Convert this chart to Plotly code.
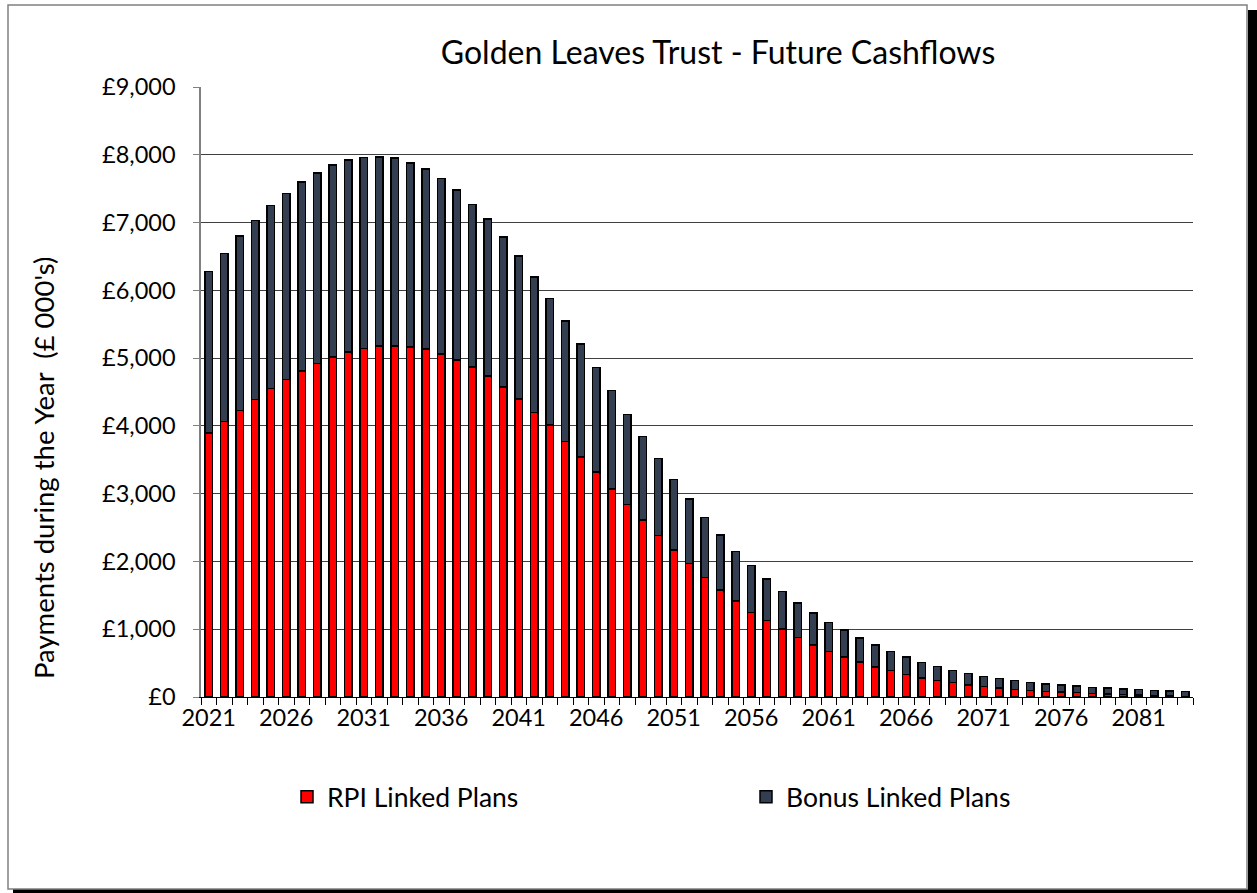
import plotly.graph_objects as go

years = list(range(2021, 2085))

total = [6280, 6540, 6800, 7030, 7250, 7430, 7600, 7730, 7850, 7920,
         7960, 7970, 7950, 7880, 7790, 7650, 7480, 7270, 7050, 6790,
         6505, 6200, 5880, 5550, 5210, 4860, 4520, 4170, 3840, 3520,
         3210, 2920, 2650, 2390, 2150, 1940, 1740, 1560, 1390, 1240,
         1100, 985, 867, 764, 670, 590, 512, 453, 394, 345,
         305, 271, 241, 217, 192, 177, 163, 143, 133, 118,
         113, 99, 89, 79]

rpi = [3894, 4063, 4227, 4386, 4549, 4686, 4811, 4921, 5019, 5090,
       5145, 5177, 5177, 5161, 5134, 5063, 4975, 4866, 4735, 4577,
       4395, 4200, 4010, 3770, 3540, 3320, 3070, 2840, 2610, 2380,
       2170, 1970, 1760, 1580, 1420, 1250, 1130, 1000, 875, 770,
       675, 590, 517, 443, 389, 335, 281, 246, 217, 177,
       158, 133, 113, 99, 79, 74, 64, 54, 44, 39,
       30, 20, 12, 6]

bonus = [t - r for t, r in zip(total, rpi)]

xtick_vals = list(range(2021, 2085, 5))
xtick_text = [str(v) for v in xtick_vals]

FONT = "Lato"

fig = go.Figure()
fig.add_trace(go.Bar(x=years, y=rpi, name="RPI Linked Plans", legend="legend",
                     marker=dict(color="#FF0000", line=dict(color="#000000", width=1.5))))
fig.add_trace(go.Bar(x=years, y=bonus, name="Bonus Linked Plans", legend="legend2",
                     marker=dict(color="#333F50", line=dict(color="#000000", width=1.5))))

W, H = 1257, 893
L, R, T, B = 201, 64, 87, 196
pw, ph = W - L - R, H - T - B


def px(xp):
    return (xp - L) / pw


def py(yp):
    return (H - B - yp) / ph


leg_common = dict(orientation="h", yanchor="middle", xanchor="left",
                  font=dict(size=26.5, family=FONT), bgcolor="rgba(0,0,0,0)")

fig.update_layout(
    width=W, height=H,
    barmode="stack", bargap=0.52,
    plot_bgcolor="white", paper_bgcolor="white",
    margin=dict(l=L, r=R, t=T, b=B),
    font=dict(family=FONT, color="#000000", size=23),
    title=dict(text="Golden Leaves Trust - Future Cashflows", x=718 / W, xanchor="center",
               y=1 - 53 / H, yanchor="middle", font=dict(size=32, family=FONT)),
    showlegend=True,
    legend=dict(x=px(287), y=py(797), **leg_common),
    legend2=dict(x=px(746), y=py(797), **leg_common),
    xaxis=dict(range=[2020.5, 2084.5], tickvals=xtick_vals, ticktext=xtick_text,
               ticks="", showgrid=False, showline=True, linecolor="#000000", linewidth=1,
               tickfont=dict(size=23.5), zeroline=False,
               minor=dict(tick0=2020.5, dtick=1, ticks="outside", ticklen=7,
                          tickcolor="#000000", tickwidth=1, showgrid=False)),
    yaxis=dict(range=[0, 9000], dtick=1000, tickprefix="£", tickformat=",",
               ticks="outside", ticklen=6, tickcolor="#808080", ticklabelstandoff=13,
               showgrid=True, gridcolor="#404040", gridwidth=1,
               showline=True, linecolor="#808080", linewidth=1.5,
               tickfont=dict(size=23.5), zeroline=False),
    annotations=[dict(text="Payments during the Year\u00a0 (£ 000's)", textangle=-90,
                      xref="paper", yref="paper", x=px(43), y=py(468),
                      xanchor="center", yanchor="middle", showarrow=False,
                      font=dict(size=27.5, family=FONT))],
    shapes=[
        dict(type="rect", xref="paper", yref="paper", x0=px(1248), x1=px(1257),
             y0=py(893), y1=py(10), fillcolor="#000000", line=dict(width=0), layer="below"),
        dict(type="rect", xref="paper", yref="paper", x0=px(13), x1=px(1257),
             y0=py(893), y1=py(889), fillcolor="#000000", line=dict(width=0), layer="below"),
        dict(type="rect", xref="paper", yref="paper", x0=px(8), x1=px(1247),
             y0=py(889), y1=py(5), fillcolor="rgba(0,0,0,0)",
             line=dict(color="#808080", width=1.5), layer="below"),
    ],
)

fig.write_html("out.html")
